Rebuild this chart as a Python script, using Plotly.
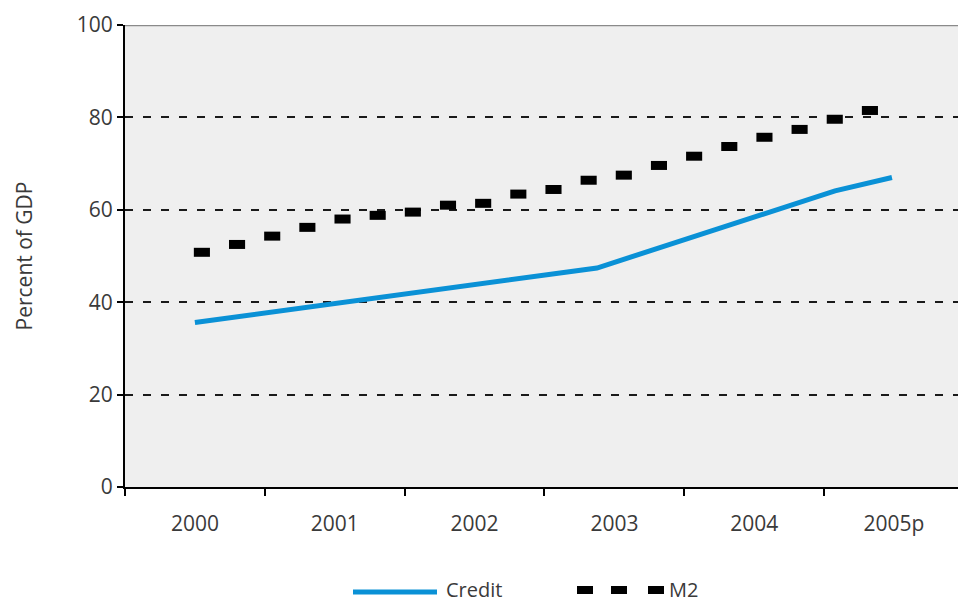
import plotly.graph_objects as go

# Year categories on the horizontal axis (boundaries at each integer year)
years = [2000, 2001, 2002, 2003, 2004, 2005]
year_labels = ["2000", "2001", "2002", "2003", "2004", "2005p"]

# M2, percent of GDP (quarterly observations)
m2_x = [2000.55 + 0.2515 * i for i in range(20)]
m2_values = [50.8, 52.5, 54.3, 56.2, 58.0, 58.8, 59.5, 61.0, 61.4, 63.4,
             64.4, 66.4, 67.5, 69.6, 71.6, 73.7, 75.7, 77.4, 79.6, 81.5]

# Credit, percent of GDP
credit_x = [2000.50, 2003.376, 2005.079, 2005.186, 2005.486]
credit_values = [35.6, 47.4, 64.1, 64.8, 67.0]

y_ticks = [0, 20, 40, 60, 80, 100]

BLUE = "#0a91d6"
TEXT = "#3a3a3a"
FONT = "Open Sans"
FS = 21

fig = go.Figure()

fig.add_trace(go.Scatter(
    x=credit_x, y=credit_values, mode="lines", name="Credit",
    line=dict(color=BLUE, width=5), showlegend=False,
))
fig.add_trace(go.Scatter(
    x=m2_x, y=m2_values, mode="markers", name="M2",
    marker=dict(symbol="line-ew", size=11.5, color="black",
                line=dict(color="black", width=9)),
    showlegend=False,
))

W, H = 958, 604
ML, MT, MB = 125, 25, 117
plot_w = W - ML
plot_h = H - MT - MB
px_per_year = 139.8


def px_to_paper(px, py):
    return (px - ML) / plot_w, (H - MB - py) / plot_h


shapes = []
# top border of the plotting area
shapes.append(dict(type="line", xref="paper", yref="y", x0=0, x1=1, y0=100, y1=100,
                   line=dict(color="#8a8a8a", width=2.5), layer="above"))

# legend: Credit sample line
x0, y0 = px_to_paper(353, 592)
x1, _ = px_to_paper(437, 592)
shapes.append(dict(type="line", xref="paper", yref="paper", x0=x0, x1=x1, y0=y0, y1=y0,
                   line=dict(color=BLUE, width=5)))
# legend: M2 sample dashes
for left in (577, 611, 648):
    a, b = px_to_paper(left, 594)
    c, d = px_to_paper(left + 16, 586)
    shapes.append(dict(type="rect", xref="paper", yref="paper", x0=a, x1=c, y0=b, y1=d,
                       fillcolor="black", line=dict(width=0)))

# legend labels
annotations = []
ax, ay = px_to_paper(445, 589)
annotations.append(dict(text="Credit", xref="paper", yref="paper", x=ax, y=ay,
                        xanchor="left", yanchor="middle", showarrow=False, borderpad=0,
                        font=dict(family=FONT, size=20, color=TEXT)))
ax, ay = px_to_paper(668, 589)
annotations.append(dict(text="M2", xref="paper", yref="paper", x=ax, y=ay,
                        xanchor="left", yanchor="middle", showarrow=False, borderpad=0,
                        font=dict(family=FONT, size=20, color=TEXT)))

fig.update_layout(
    width=W, height=H,
    margin=dict(l=ML, r=0, t=MT, b=MB),
    paper_bgcolor="white",
    plot_bgcolor="#efefef",
    font=dict(family=FONT, size=FS, color=TEXT),
    shapes=shapes,
    annotations=annotations,
    xaxis=dict(
        range=[2000, 2000 + plot_w / px_per_year],
        tickmode="array", tickvals=years, ticktext=year_labels,
        ticks="outside", ticklen=7, tickwidth=2, tickcolor="black",
        ticklabelshift=70, ticklabelstandoff=10,
        showline=True, linecolor="black", linewidth=2,
        showgrid=False, zeroline=False,
        tickfont=dict(family=FONT, size=FS, color=TEXT),
    ),
    yaxis=dict(
        range=[0, 100],
        tickmode="array", tickvals=y_ticks,
        ticks="outside", ticklen=6, tickwidth=2, tickcolor="black",
        showline=True, linecolor="black", linewidth=2,
        showgrid=True, gridcolor="#1a1a1a", gridwidth=1.5, griddash="8px,10px",
        zeroline=False,
        tickfont=dict(family=FONT, size=FS, color=TEXT),
        title=dict(text="Percent of GDP", standoff=38,
                   font=dict(family=FONT, size=FS, color=TEXT)),
    ),
)

fig.write_html("out.html")
